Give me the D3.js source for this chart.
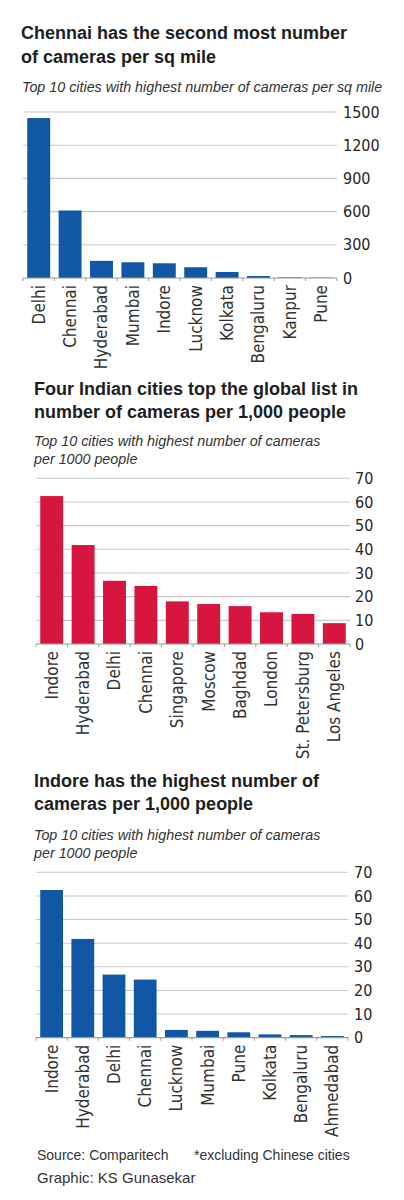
<!DOCTYPE html>
<html>
<head>
<meta charset="utf-8">
<script src="https://cdn.jsdelivr.net/npm/d3@7"></script>
<style>
  body { margin: 0; background: #fff; }
  .title { font-family: "Liberation Sans", Arial, sans-serif; font-weight: bold; font-size: 18px; fill: #1e1e1e; }
  .sub { font-family: "Liberation Sans", Arial, sans-serif; font-style: italic; font-size: 14.3px; fill: #333; }
  .tick-label { font-family: "Liberation Sans Narrow", "DejaVu Sans Condensed", sans-serif; font-size: 16px; fill: #262626; }
  .cat-label { font-family: "Liberation Sans Narrow", "DejaVu Sans Condensed", sans-serif; font-size: 17px; fill: #333; }
  .foot { font-family: "Liberation Sans", Arial, sans-serif; font-size: 14px; fill: #333; }
</style>
</head>
<body>
<div id="chart"></div>
<script>
// Chart 1: cameras per sq mile
var cities1 = ['Delhi', 'Chennai', 'Hyderabad', 'Mumbai', 'Indore', 'Lucknow', 'Kolkata', 'Bengaluru', 'Kanpur', 'Pune'];
var values1 = [1445, 610, 155, 142, 133, 97, 54, 18, 6, 3];
var ticks1 = [0, 300, 600, 900, 1200, 1500];

// Chart 2: cameras per 1,000 people (global)
var cities2 = ['Indore', 'Hyderabad', 'Delhi', 'Chennai', 'Singapore', 'Moscow', 'Baghdad', 'London', 'St. Petersburg', 'Los Angeles'];
var values2 = [62.5, 41.8, 26.7, 24.5, 18.0, 16.9, 16.0, 13.4, 12.7, 8.8];
var ticks2 = [0, 10, 20, 30, 40, 50, 60, 70];

// Chart 3: cameras per 1,000 people (India)
var cities3 = ['Indore', 'Hyderabad', 'Delhi', 'Chennai', 'Lucknow', 'Mumbai', 'Pune', 'Kolkata', 'Bengaluru', 'Ahmedabad'];
var values3 = [62.5, 41.8, 26.7, 24.6, 3.3, 2.9, 2.3, 1.4, 1.1, 0.7];
var ticks3 = [0, 10, 20, 30, 40, 50, 60, 70];

var BLUE = '#1257a6';
var RED = '#d6163f';

var svg = d3.select('#chart')
  .append('svg')
  .attr('width', 404)
  .attr('height', 1200);

svg.append('rect').attr('width', 404).attr('height', 1200).attr('fill', '#fff');

function textLines(lines, x, ys, cls) {
  lines.forEach(function (t, i) {
    svg.append('text').attr('class', cls).attr('x', x).attr('y', ys[i]).text(t);
  });
}

function renderChart(cfg) {
  var xScale = d3.scaleBand()
    .domain(cfg.cities)
    .range([cfg.left, cfg.right])
    .paddingInner(0.27)
    .paddingOuter(0.135);
  var yScale = d3.scaleLinear()
    .domain([0, cfg.ticks[cfg.ticks.length - 1]])
    .range([cfg.bottom, cfg.top]);

  var g = svg.append('g');

  // gridlines
  g.selectAll('.grid')
    .data(cfg.ticks.slice(1))
    .enter()
    .append('line')
    .attr('x1', cfg.left)
    .attr('x2', cfg.right)
    .attr('y1', function (d) { return yScale(d); })
    .attr('y2', function (d) { return yScale(d); })
    .attr('stroke', '#c9c9c9')
    .attr('stroke-width', 1.1);

  // y axis on the right
  var yAxis = d3.axisRight(yScale)
    .tickValues(cfg.ticks)
    .tickFormat(d3.format('d'))
    .tickSize(0)
    .tickPadding(0);
  var ya = g.append('g')
    .attr('transform', 'translate(' + cfg.labelX + ',0)')
    .call(yAxis);
  ya.select('.domain').remove();
  ya.attr('font-size', null).attr('font-family', null);
  ya.selectAll('text').attr('class', 'tick-label').attr('fill', null);

  // bars
  g.selectAll('.bar')
    .data(cfg.values)
    .enter()
    .append('rect')
    .attr('x', function (d, i) { return xScale(cfg.cities[i]); })
    .attr('y', function (d) { return yScale(d); })
    .attr('width', xScale.bandwidth())
    .attr('height', function (d) { return yScale(0) - yScale(d); })
    .attr('fill', cfg.color);

  // baseline with small ticks between bars
  g.append('line')
    .attr('x1', cfg.left).attr('x2', cfg.right)
    .attr('y1', yScale(0)).attr('y2', yScale(0))
    .attr('stroke', '#9a9a9a').attr('stroke-width', 1.2);
  var edges = cfg.cities.map(function (c) { return xScale(c) - xScale.step() * xScale.paddingInner() / 2; });
  edges.push(cfg.right);
  g.selectAll('.edge')
    .data(edges)
    .enter()
    .append('line')
    .attr('x1', function (d) { return d; })
    .attr('x2', function (d) { return d; })
    .attr('y1', yScale(0))
    .attr('y2', yScale(0) + 3)
    .attr('stroke', '#9a9a9a');

  // category labels
  g.selectAll('.cat')
    .data(cfg.cities)
    .enter()
    .append('text')
    .attr('class', 'cat-label')
    .attr('text-anchor', 'end')
    .attr('transform', function (d) {
      return 'translate(' + (xScale(d) + xScale.bandwidth() / 2) + ',' + (yScale(0) + 7) + ')rotate(-90)';
    })
    .attr('dy', '0.35em')
    .text(function (d) { return d; });
}

// Titles
textLines(['Chennai has the second most number', 'of cameras per sq mile'], 21, [39, 63], 'title');
textLines(['Top 10 cities with highest number of cameras per sq mile'], 22, [92], 'sub');

renderChart({ cities: cities1, values: values1, ticks: ticks1, color: BLUE,
  left: 23, right: 337, top: 112, bottom: 278, labelX: 343 });

textLines(['Four Indian cities top the global list in', 'number of cameras per 1,000 people'], 34, [395, 418], 'title');
textLines(['Top 10 cities with highest number of cameras', 'per 1000 people'], 34, [446, 464], 'sub');

renderChart({ cities: cities2, values: values2, ticks: ticks2, color: RED,
  left: 36, right: 350, top: 478.3, bottom: 644, labelX: 355 });

textLines(['Indore has the highest number of', 'cameras per 1,000 people'], 34, [787, 810], 'title');
textLines(['Top 10 cities with highest number of cameras', 'per 1000 people'], 34, [840, 858], 'sub');

renderChart({ cities: cities3, values: values3, ticks: ticks3, color: BLUE,
  left: 36, right: 348, top: 872.3, bottom: 1037.7, labelX: 354 });

// Footer
svg.append('text').attr('class', 'foot').attr('x', 37).attr('y', 1160).text('Source: Comparitech');
svg.append('text').attr('class', 'foot').attr('x', 194).attr('y', 1160).text('*excluding Chinese cities');
svg.append('text').attr('class', 'foot').attr('x', 37).attr('y', 1183).style('font-size', '15px').text('Graphic: KS Gunasekar');
</script>
</body>
</html>
